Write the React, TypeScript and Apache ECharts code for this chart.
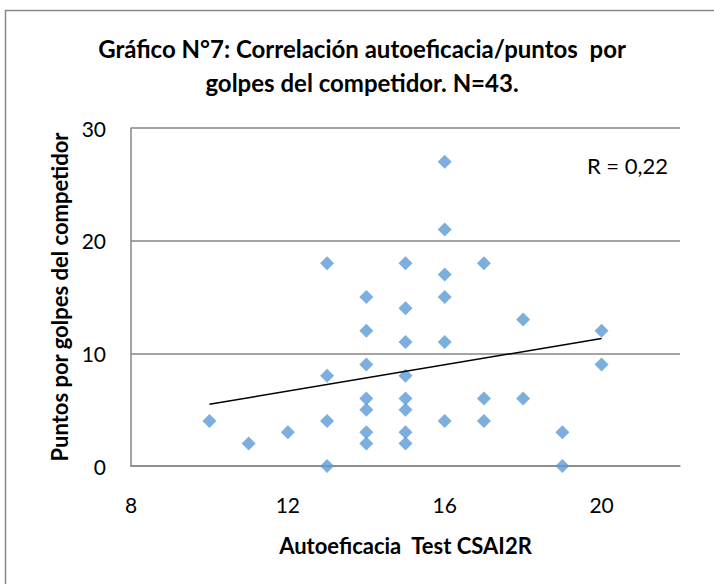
import React, { useEffect, useRef } from "react";
import * as echarts from "echarts";

const titleLines = ["Gráfico N°7: Correlación autoeficacia/puntos  por", "golpes del competidor. N=43."];
const xAxisName = "Autoeficacia  Test CSAI2R";
const yAxisName = "Puntos por golpes del competidor";
const rLabel = "R = 0,22";

const autoeficacia = [10, 11, 12, 13, 13, 13, 13, 14, 14, 14, 14, 14, 14, 14, 15, 15, 15, 15, 15, 15, 15, 15, 16, 16, 16, 16, 16, 16, 17, 17, 17, 18, 18, 19, 19, 20, 20];
const puntos = [4, 2, 3, 18, 8, 4, 0, 15, 12, 9, 6, 5, 3, 2, 18, 14, 11, 8, 6, 5, 3, 2, 27, 21, 17, 15, 11, 4, 18, 6, 4, 13, 6, 3, 0, 12, 9];

const trendX = [10, 20];
const trendY = [5.48, 11.32];

const FONT = "Lato, 'Liberation Sans', sans-serif";

export default function App() {
  const ref = useRef<HTMLDivElement>(null);
  useEffect(() => {
    if (!ref.current) return;
    const chart = echarts.init(ref.current, undefined, { renderer: "svg" });
    chart.setOption({
      animation: false,
      backgroundColor: "#ffffff",
      textStyle: { fontFamily: FONT },
      graphic: [
        {
          type: "rect",
          shape: { x: 5.5, y: 10.5, width: 800, height: 700 },
          style: { fill: "none", stroke: "#888888", lineWidth: 1.5 },
          silent: true,
        },
        {
          type: "text",
          x: 362,
          y: 65,
          style: {
            text: titleLines.join("\n"),
            font: `bold 24px ${FONT}`,
            fill: "#000000",
            align: "center",
            verticalAlign: "middle",
            lineHeight: 34,
          },
        },
        {
          type: "text",
          x: 668,
          y: 165,
          style: {
            text: rLabel,
            font: `22px ${FONT}`,
            fill: "#000000",
            align: "right",
            verticalAlign: "middle",
          },
        },
      ],
      grid: { left: 131, right: 34, top: 128, bottom: 118 },
      xAxis: {
        type: "value",
        min: 8,
        max: 22,
        interval: 4,
        name: xAxisName,
        nameLocation: "middle",
        nameGap: 68,
        nameTextStyle: { fontFamily: FONT, fontSize: 22, fontWeight: "bold", color: "#000" },
        axisLine: { show: true, lineStyle: { color: "#868686", width: 1.5 } },
        axisTick: { show: false },
        splitLine: { show: false },
        axisLabel: { fontFamily: FONT, fontSize: 21, color: "#000", margin: 28, showMaxLabel: false },
      },
      yAxis: {
        type: "value",
        min: 0,
        max: 30,
        interval: 10,
        name: yAxisName,
        nameLocation: "middle",
        nameGap: 60,
        nameTextStyle: { fontFamily: FONT, fontSize: 22, fontWeight: "bold", color: "#000" },
        axisLine: { show: true, lineStyle: { color: "#868686", width: 1.5 } },
        axisTick: { show: false },
        splitLine: { show: true, lineStyle: { color: "#868686", width: 1.5 } },
        axisLabel: { fontFamily: FONT, fontSize: 21, color: "#000", margin: 25 },
      },
      series: [
        {
          type: "scatter",
          symbol: "diamond",
          symbolSize: 14,
          itemStyle: { color: "#5B9BD5" },
          data: autoeficacia.map((x, i) => [x, puntos[i]]),
          z: 3,
        },
        {
          type: "line",
          symbol: "none",
          lineStyle: { color: "#000000", width: 1.5 },
          data: trendX.map((x, i) => [x, trendY[i]]),
          z: 4,
        },
      ],
    });
    return () => chart.dispose();
  }, []);
  return <div ref={ref} style={{ width: 714, height: 584, position: "absolute", left: 0, top: 0 }} />;
}
